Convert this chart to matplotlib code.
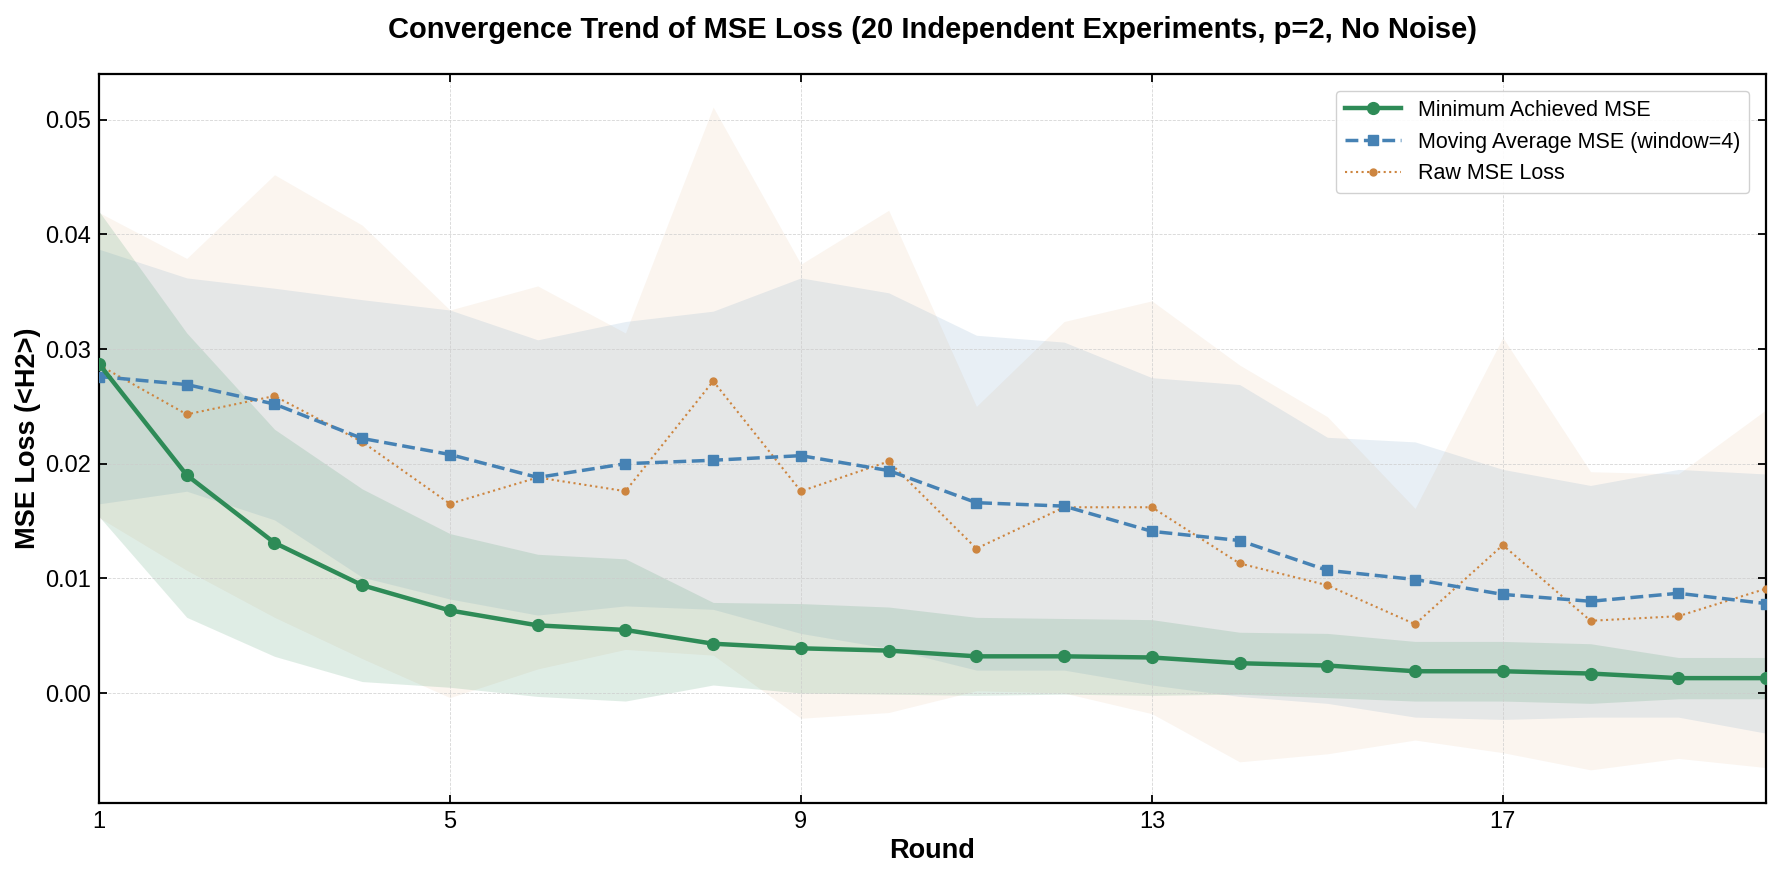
import numpy as np
import matplotlib
matplotlib.use('Agg')
import matplotlib.pyplot as plt

plt.rcParams['font.family'] = ['Liberation Sans', 'DejaVu Sans']

rounds = np.arange(1, 21)

# minimum achieved MSE and its spread over the 20 experiments
min_mse = [0.0287, 0.0190, 0.0131, 0.0094, 0.0072, 0.0059, 0.0055, 0.0043, 0.0039, 0.0037,
           0.0032, 0.0032, 0.0031, 0.0026, 0.0024, 0.0019, 0.0019, 0.0017, 0.0013, 0.0013]
min_std = [0.0133, 0.0124, 0.0099, 0.0084, 0.0067, 0.0062, 0.0062, 0.0036, 0.0039, 0.0038,
           0.0034, 0.0033, 0.0033, 0.0027, 0.0028, 0.0026, 0.0026, 0.0026, 0.0018, 0.0018]

# moving average (window=4)
ma_mse = [0.0276, 0.0269, 0.0252, 0.0222, 0.0208, 0.0188, 0.0200, 0.0203, 0.0207, 0.0194,
          0.0166, 0.0163, 0.0141, 0.0133, 0.0107, 0.0099, 0.0086, 0.0080, 0.0087, 0.0078]
ma_std = [0.0111, 0.0093, 0.0101, 0.0121, 0.0126, 0.0120, 0.0124, 0.0130, 0.0155, 0.0155,
          0.0146, 0.0143, 0.0134, 0.0136, 0.0116, 0.0120, 0.0109, 0.0101, 0.0108, 0.0113]

# raw loss
raw_mse = [0.0286, 0.0243, 0.0259, 0.0219, 0.0165, 0.0188, 0.0176, 0.0272, 0.0176, 0.0202,
           0.0126, 0.0162, 0.0162, 0.0113, 0.0094, 0.0060, 0.0129, 0.0063, 0.0067, 0.0091]
raw_std = [0.0133, 0.0136, 0.0193, 0.0189, 0.0169, 0.0167, 0.0138, 0.0239, 0.0198, 0.0219,
           0.0124, 0.0162, 0.0180, 0.0173, 0.0147, 0.0101, 0.0181, 0.0130, 0.0124, 0.0156]

green = '#2E8B57'
blue = '#4682B4'
orange = '#CD853F'

fig = plt.figure(figsize=(17.81, 8.80), dpi=100)
ax = fig.add_axes([0.0556, 0.0875, 0.936, 0.8285])

min_mse, min_std = np.array(min_mse), np.array(min_std)
ma_mse, ma_std = np.array(ma_mse), np.array(ma_std)
raw_mse, raw_std = np.array(raw_mse), np.array(raw_std)

# shaded spreads
ax.fill_between(rounds, raw_mse - raw_std, raw_mse + raw_std, color=orange, alpha=0.08, linewidth=0)
ax.fill_between(rounds, ma_mse - ma_std, ma_mse + ma_std, color=blue, alpha=0.12, linewidth=0)
ax.fill_between(rounds, min_mse - min_std, min_mse + min_std, color=green, alpha=0.15, linewidth=0)

ax.plot(rounds, min_mse, color=green, linestyle='-', linewidth=3.2, marker='o', markersize=8.5,
        label='Minimum Achieved MSE', zorder=5)
ax.plot(rounds, ma_mse, color=blue, linestyle='--', linewidth=2.5, marker='s', markersize=7.5,
        label='Moving Average MSE (window=4)', zorder=4)
ax.plot(rounds, raw_mse, color=orange, linestyle=':', linewidth=1.5, marker='o', markersize=5,
        label='Raw MSE Loss', zorder=3)

ax.set_xlim(1, 20)
ax.set_xticks([1, 5, 9, 13, 17])
ax.set_yticks([0.00, 0.01, 0.02, 0.03, 0.04, 0.05])

ax.set_title('Convergence Trend of MSE Loss (20 Independent Experiments, p=2, No Noise)',
             fontsize=21, fontweight='bold', pad=26)
ax.set_xlabel('Round', fontsize=19.5, fontweight='bold', labelpad=3)
ax.set_ylabel('MSE Loss (<H2>)', fontsize=19.5, fontweight='bold', labelpad=3)

ax.tick_params(direction='in', length=6, width=1.3, labelsize=17, top=True, right=True, pad=6)
for s in ax.spines.values():
    s.set_linewidth(1.6)
ax.grid(True, linestyle='--', linewidth=0.6, color='#cccccc', alpha=0.8)

ax.legend(loc='upper right', fontsize=15.5, frameon=True, framealpha=0.9, edgecolor='#cccccc',
          borderaxespad=0.8, handlelength=2.6)

fig.savefig('out.png', dpi=100)
